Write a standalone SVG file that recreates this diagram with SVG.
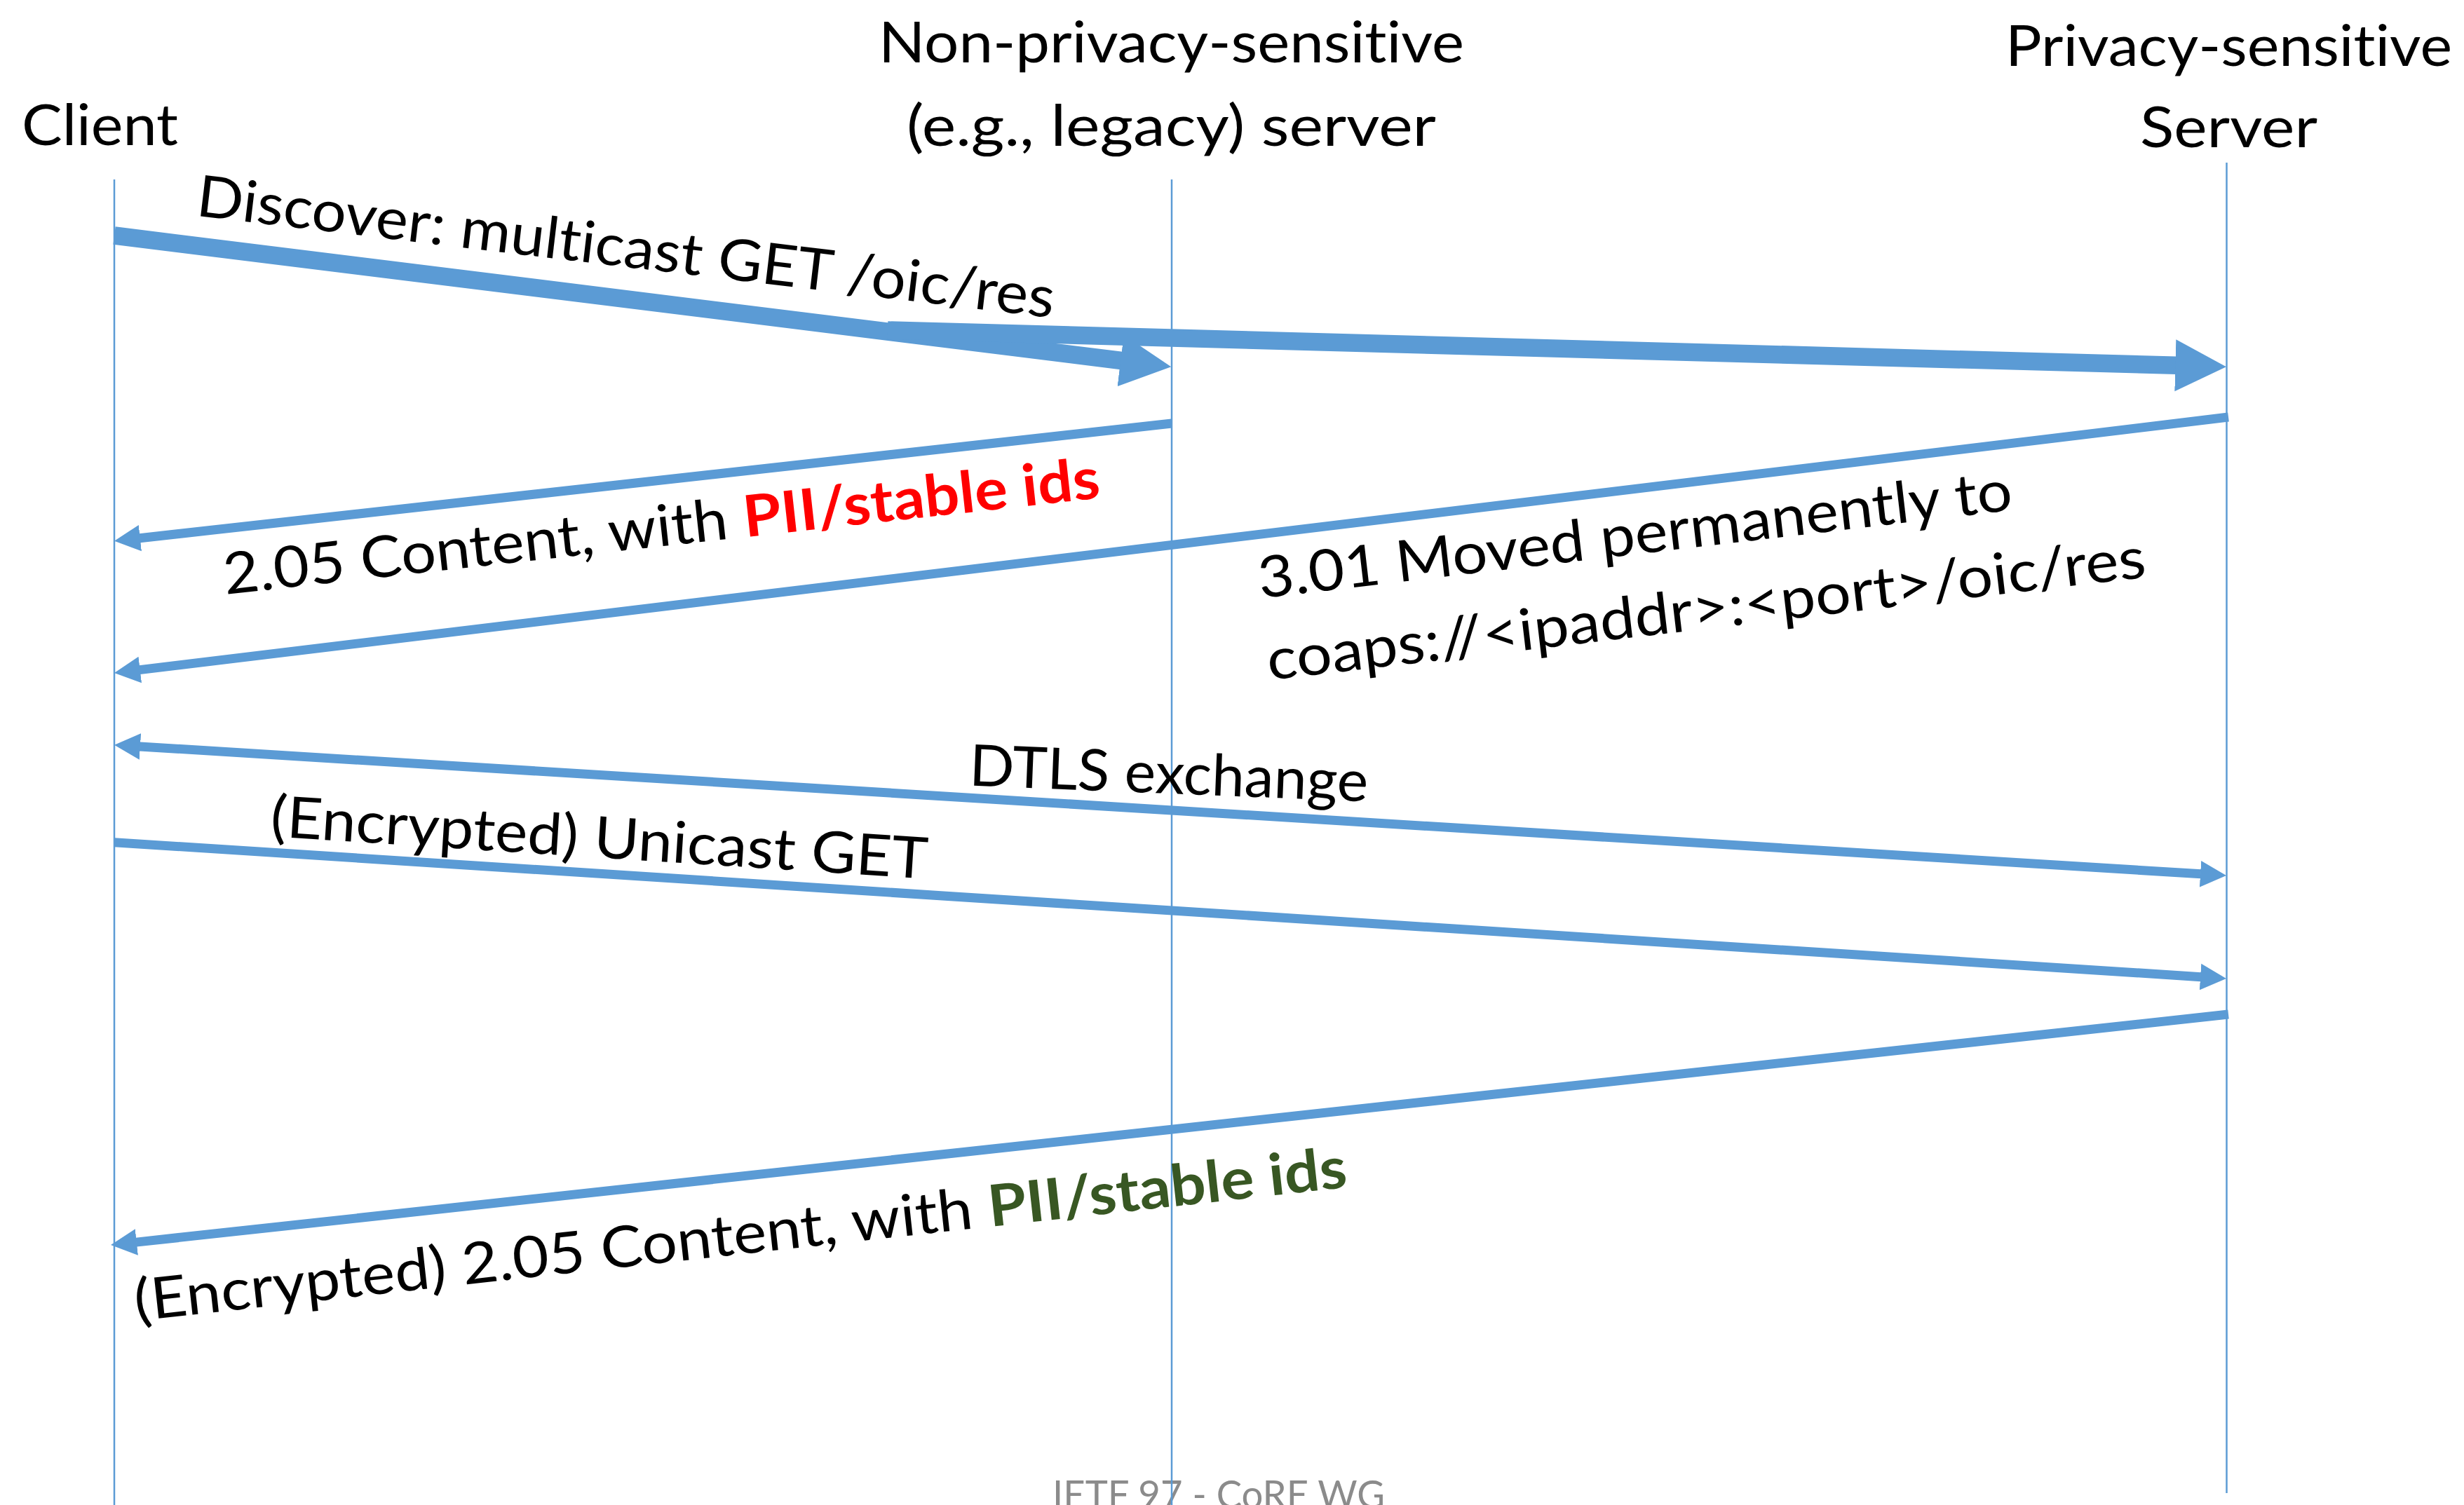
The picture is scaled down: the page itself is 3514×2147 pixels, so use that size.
<svg xmlns="http://www.w3.org/2000/svg" width="3514" height="2147" viewBox="0 0 3514 2147">
<style>
.life{stroke:#5B9BD5;stroke-width:2.5;fill:none}
.msg{stroke:#5B9BD5;stroke-width:13;fill:none;marker-end:url(#ah)}
.thick{stroke-width:25.5}
.both{marker-start:url(#ah)}
text{font-family:Lato,"Open Sans","Liberation Sans",sans-serif;font-size:82px;fill:#000;font-variant-ligatures:none}
.b{font-weight:bold}
.red{fill:#FF0000}
.green{fill:#385723}
.foot{font-size:56px;fill:#8B8B8B}
</style>
<defs>
<marker id="ah" viewBox="0 0 3 3" refX="0.05" refY="1.5" markerWidth="3" markerHeight="3" orient="auto-start-reverse" markerUnits="strokeWidth">
<path d="M0,0.05 L2.85,1.5 L0,2.95 z" fill="#5B9BD5"/>
</marker>
</defs>
<rect width="3514" height="2147" fill="#FFFFFF"/>
<g id="footer">
<text class="foot" x="1501" y="2152" textLength="474" lengthAdjust="spacingAndGlyphs">IETF 97 - CoRE WG</text>
</g>
<g id="connectors">
<path id="m1a" class="msg thick" d="M163,336 L1599.4,514.5"/>
<path id="m1b" class="msg thick" d="M1266,471 L3103.6,521.3"/>
<path id="m2" class="msg" d="M1671,604 L199.2,767.7"/>
<path id="m3" class="msg" d="M3178,595 L199.1,955.6"/>
<path id="m4" class="msg both" d="M199.3,1064.95 L3138.7,1246.75"/>
<path id="m5" class="msg" d="M163,1201.7 L3138.7,1393.66"/>
<path id="m6" class="msg" d="M3178,1447 L194.2,1772.1"/>
</g>
<g id="client">
<line class="life" x1="163" y1="256" x2="163" y2="2147"/>
<text x="31" y="207" textLength="223" lengthAdjust="spacingAndGlyphs">Client</text>
</g>
<g id="legacy-server">
<line class="life" x1="1671" y1="256" x2="1671" y2="2147"/>
<text><tspan x="1253" y="89" textLength="835" lengthAdjust="spacingAndGlyphs">Non-privacy-sensitive</tspan><tspan x="1293" y="207.6" textLength="755" lengthAdjust="spacingAndGlyphs">(e.g., legacy) server</tspan></text>
</g>
<g id="privacy-server">
<line class="life" x1="3175.5" y1="232" x2="3175.5" y2="2130"/>
<text><tspan x="2860" y="94" textLength="637" lengthAdjust="spacingAndGlyphs">Privacy-sensitive</tspan><tspan x="3052" y="210" textLength="253" lengthAdjust="spacingAndGlyphs">Server</tspan></text>
</g>
<g id="labels">
<text transform="translate(278.3,307.6) rotate(6.8)" x="0" y="0" textLength="1231" lengthAdjust="spacingAndGlyphs">Discover: multicast GET /oic/res</text>
<text transform="translate(321.4,848) rotate(-6.3)"><tspan x="0" y="0" textLength="746" lengthAdjust="spacingAndGlyphs">2.05 Content, with </tspan><tspan class="b red" x="746" y="0" textLength="511" lengthAdjust="spacingAndGlyphs">PII/stable ids</tspan></text>
<text transform="translate(1797.5,853.6) rotate(-6.7)"><tspan x="0" y="0" textLength="1082" lengthAdjust="spacingAndGlyphs">3.01 Moved permanently to</tspan><tspan x="-1.2" y="117.4" textLength="1261" lengthAdjust="spacingAndGlyphs">coaps://&lt;ipaddr&gt;:&lt;port&gt;/oic/res</tspan></text>
<text transform="translate(1381.6,1120.6) rotate(2.3)" x="0" y="0" textLength="569" lengthAdjust="spacingAndGlyphs">DTLS exchange</text>
<text transform="translate(384.5,1193) rotate(3.7)" x="0" y="0" textLength="939" lengthAdjust="spacingAndGlyphs">(Encrypted) Unicast GET</text>
<text transform="translate(194.6,1884.3) rotate(-6.3)"><tspan x="0" y="0" textLength="1225" lengthAdjust="spacingAndGlyphs">(Encrypted) 2.05 Content, with </tspan><tspan class="b green" x="1225" y="0" textLength="514" lengthAdjust="spacingAndGlyphs">PII/stable ids</tspan></text>
</g>
</svg>
